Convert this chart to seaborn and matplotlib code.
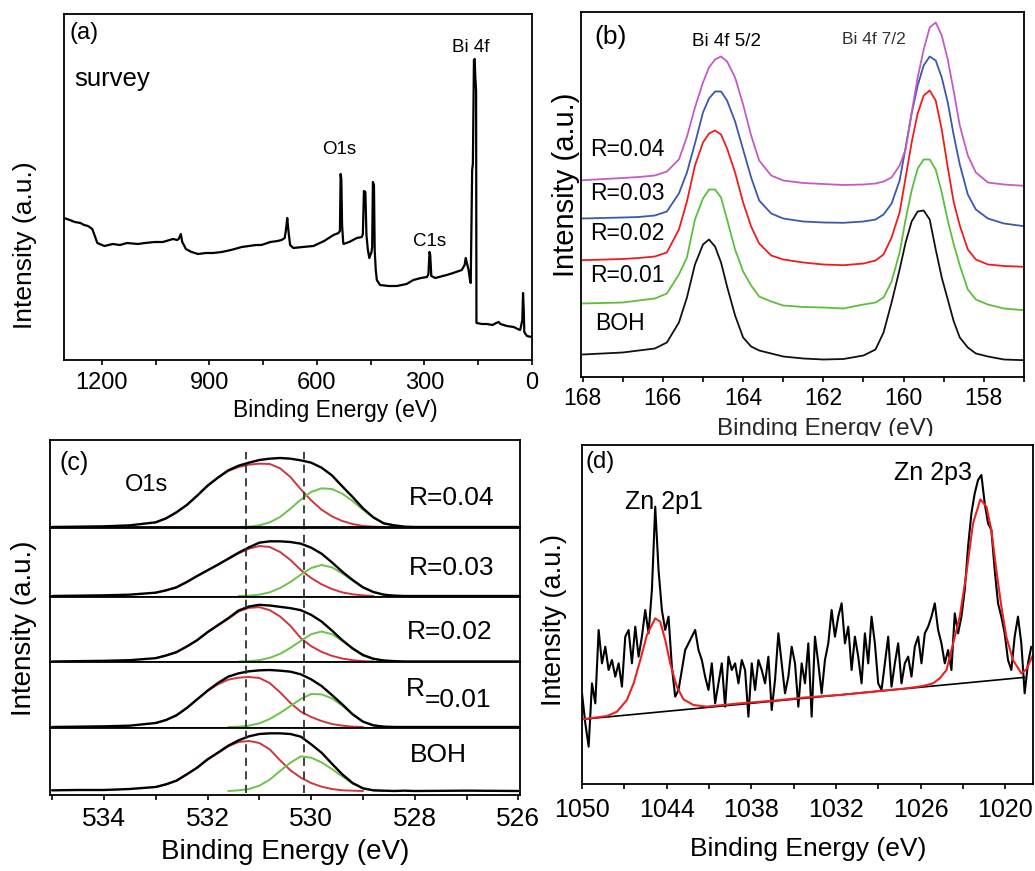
import numpy as np
import matplotlib
matplotlib.use("Agg")
import matplotlib.pyplot as plt
from matplotlib.patches import Rectangle
import seaborn as sns

# ---------------- (a) survey spectrum ----------------
survey_be = [1306, 1290, 1276, 1260, 1250, 1239, 1227, 1220, 1213, 1200, 1193, 1170, 1150, 1130, 1100,
             1080, 1053, 1030, 1002, 990, 986, 980, 976, 970, 966, 950, 932, 910, 890, 866, 840, 810,
             790, 770, 755, 730, 710, 699, 690, 686, 683, 680, 675, 666, 640, 610, 580, 554, 540, 536,
             534, 532, 530, 527, 526, 510, 489, 475, 472, 469, 465, 462, 458, 454, 448, 446, 444, 441,
             439, 436, 433, 424, 400, 377, 350, 331, 310, 293, 289, 286, 284, 281, 270, 238, 220, 196,
             188, 185, 181, 177, 173, 171, 167, 165, 162, 160, 158, 156, 155, 154, 140, 126, 110, 100,
             93, 88, 70, 51, 40, 33, 27, 25, 23, 21.5, 18, 14, 8, 0]
survey_int = [142, 140, 138, 137, 135, 134, 131, 124, 117, 115, 114, 116, 115, 117, 116,
              117, 118, 118, 121, 120, 121, 126, 118, 114, 111, 108, 106, 107, 107, 108, 110, 113,
              114, 115, 115, 118, 119, 120, 122, 132, 142, 130, 115, 112, 113, 114, 119, 125, 127, 129,
              186, 180, 135, 118, 116, 118, 122, 123, 126, 169, 168, 125, 110, 102, 108, 113, 178, 175,
              110, 90, 80, 75, 74, 74, 76, 80, 82, 83, 86, 108, 105, 84, 82, 85, 87, 90,
              95, 102, 96, 90, 80, 77, 190, 196, 300, 301, 281, 270, 37, 37, 36, 36, 35, 37,
              38, 36, 34, 33, 31, 30, 40, 67, 50, 28, 26, 24, 23.5, 23]

# ---------------- (b) Bi 4f ----------------
bi_labels = ["BOH", "R=0.01", "R=0.02", "R=0.03", "R=0.04"]
bi_colors = ["#111111", "#5cbf3c", "#f01c1c", "#3b58ad", "#c25cc4"]
bi_be = [168.0, 167.0, 166.6, 166.2, 165.9, 165.6, 165.4, 165.2, 165.0, 164.85, 164.7, 164.55, 164.4,
         164.2, 164.0, 163.8, 163.6, 163.3, 163.0, 162.5, 162.0, 161.5, 161.0, 160.7, 160.5, 160.3,
         160.1, 159.95, 159.8, 159.65, 159.5, 159.35, 159.2, 159.05, 158.9, 158.75, 158.6, 158.4,
         158.2, 157.9, 157.5, 157.0]
bi_boh = [23, 25, 27, 29, 35, 55, 80, 113, 133, 138, 131, 115, 91, 62, 40, 31, 27, 24, 21, 19, 18, 18.5,
          22, 28, 45, 75, 108, 135, 156, 166, 167, 158, 128, 100, 78, 56, 40, 30, 24, 21, 18, 17.3]
bi_r001 = [74, 75, 77, 79, 84, 103, 120, 158, 179, 188, 188, 180, 158, 128, 106, 92, 81, 76, 72, 70.5,
           70, 69, 73, 75, 80, 96, 125, 158, 187, 209, 218, 218, 208, 185, 157, 133, 112, 88, 78, 73,
           69, 67.3]
bi_r002 = [117.3, 118.5, 119.5, 121, 125, 148, 176, 212, 235, 244, 247, 243, 229, 205, 175, 151, 134,
           122, 118, 115, 113, 112.3, 114, 117, 123, 140, 165, 200, 235, 264, 282, 287, 277, 248, 210,
           175, 152, 128, 118, 113, 111.5, 110.7]
bi_r003 = [159, 160, 160.5, 162, 166, 184, 205, 234, 265, 279, 286, 286, 277, 256, 228, 200, 177, 164,
           159, 156, 155, 154.7, 156, 158, 163, 174, 197, 230, 264, 292, 312, 321, 317, 300, 275, 242,
           213, 183, 168, 159, 154, 151.3]
bi_r004 = [197.3, 199.5, 200.5, 202, 206, 218, 240.7, 270, 295, 310, 318, 321, 316, 300, 273, 242, 217,
           202, 197, 194.5, 193.5, 192.5, 193, 194, 196, 200, 212, 228, 265, 300, 328, 350, 355, 342,
           318, 286, 252, 222, 205, 195, 193, 191.7]

# ---------------- (c) O1s ----------------
o1s_be = [535, 534.5, 534, 533.5, 533, 532.8, 532.6, 532.4, 532.2, 532, 531.8, 531.6, 531.4, 531.2, 531,
          530.8, 530.6, 530.4, 530.2, 530, 529.8, 529.6, 529.4, 529.2, 529, 528.8, 528.6, 528.4, 528.2,
          528, 527, 526]
o1s_fit_be = [533, 532.8, 532.6, 532.4, 532.2, 532, 531.8, 531.6, 531.4, 531.2, 531, 530.8, 530.6, 530.4,
              530.2, 530, 529.8, 529.6, 529.4, 529.2, 529, 528.8, 528.6, 528.4, 528.2]
o1s_labels = ["R=0.04", "R=0.03", "R=0.02", "R=0.01", "BOH"]
o1s_total = [
    [0, 1, 2, 5, 14, 26, 44, 66, 94, 124, 148, 170, 184, 193, 201, 205, 207, 205, 200, 193, 178, 155, 122,
     90, 56, 29, 11, 5, 1, 0, 0, 0],
    [0, 1, 2, 4, 10, 17, 26, 42, 60, 77, 94, 112, 130, 146, 160, 164, 164, 162, 157, 145, 127, 101, 73,
     48, 26, 12, 4, 1, 0, 0, 0, 0],
    [0, 1, 2, 4, 10, 18, 28, 45, 64, 88, 109, 130, 153, 165, 170, 168, 164, 160, 154, 140, 120, 93, 64,
     39, 19, 8, 3, 1, 0, 0, 0, 0],
    [0, 1, 2, 4, 12, 21, 35, 57, 83, 109, 132, 151, 161, 167, 170, 171, 169, 166, 158, 143, 123, 96, 68,
     38, 16, 5, 1, 0, 0, 0, 0, 0],
    [2, 3, 3, 6, 12, 20, 31, 50, 70, 95, 115, 136, 152, 164, 171, 173, 173, 171, 163, 140, 115, 82, 50,
     24, 8, 2, 1, 0, 1, 0, 1, 0],
]
o1s_red = [
    [14, 26, 44, 66, 94, 123, 148, 168, 180, 187, 190, 189, 176, 150, 113, 80, 52, 32, 18, 9, 3, 1, 0, 0, 0],
    [10, 17, 26, 42, 60, 77, 94, 111, 128, 142, 150, 147, 132, 108, 78, 54, 35, 21, 11, 5, 2, 0, 0, 0, 0],
    [10, 18, 28, 45, 64, 88, 108, 128, 150, 161, 163, 154, 135, 107, 70, 46, 29, 17, 9, 4, 1, 0, 0, 0, 0],
    [12, 21, 35, 57, 83, 108, 128, 142, 148, 150, 147, 132, 104, 72, 46, 30, 18, 9, 4, 1, 0, 0, 0, 0, 0],
    [12, 20, 31, 50, 70, 94, 114, 134, 147, 150, 144, 125, 92, 62, 40, 24, 13, 6, 2, 1, 0, 0, 0, 0, 0],
]
o1s_green = [
    [0, 0, 0, 0, 0, 0, 0, 0, 0, 1, 5, 14, 30, 55, 82, 105, 116, 114, 100, 78, 52, 28, 11, 5, 1],
    [0, 0, 0, 0, 0, 0, 0, 0, 0, 1, 4, 11, 24, 42, 64, 84, 93, 86, 68, 46, 26, 12, 4, 1, 0],
    [0, 0, 0, 0, 0, 0, 0, 0, 0, 1, 4, 11, 23, 41, 62, 82, 90, 82, 62, 40, 21, 9, 3, 1, 0],
    [0, 0, 0, 0, 0, 0, 0, 0, 1, 4, 11, 24, 42, 63, 84, 99, 98, 86, 64, 38, 16, 5, 1, 0, 0],
    [0, 0, 0, 0, 0, 0, 0, 0, 2, 6, 16, 34, 60, 85, 104, 100, 86, 66, 44, 22, 8, 2, 0, 0, 0],
]
o1s_ref_lines = [531.25, 530.13]

# ---------------- (d) Zn 2p ----------------
zn_start, zn_end = 1050.0, 1018.16
zn_int = [272, 182, 112, 302, 242, 462, 362, 412, 342, 372, 322, 362, 292, 442, 462, 362, 472, 382, 442,
          522, 452, 582, 832, 642, 522, 462, 502, 352, 262, 282, 342, 402, 422, 442, 462, 402, 372, 322,
          282, 362, 242, 302, 362, 232, 382, 342, 362, 302, 372, 342, 202, 362, 282, 372, 342, 302, 382,
          222, 312, 452, 362, 272, 322, 412, 362, 232, 362, 302, 422, 202, 442, 362, 272, 372, 422, 522,
          442, 502, 542, 422, 472, 342, 442, 382, 302, 452, 362, 502, 422, 302, 282, 362, 442, 292, 362,
          422, 302, 362, 382, 322, 412, 442, 362, 452, 472, 502, 542, 462, 422, 362, 402, 342, 512, 452,
          502, 582, 712, 812, 872, 912, 927, 842, 782, 762, 642, 542, 502, 452, 372, 342, 442, 502, 422,
          272, 362, 412]
zn_fit_be = [1050.0, 1048.23, 1047.52, 1046.82, 1046.34, 1045.87, 1045.40, 1044.81, 1044.46, 1044.10,
             1043.75, 1043.28, 1042.81, 1042.10, 1041.16, 1038.80, 1036.44, 1034.08, 1031.72, 1029.36,
             1027.0, 1025.83, 1025.12, 1024.65, 1024.17, 1023.70, 1023.23, 1022.76, 1022.29, 1021.77,
             1021.34, 1020.99, 1020.64, 1020.28, 1019.93, 1019.46, 1018.87, 1018.51, 1018.04]
zn_fit_int = [194, 204, 217, 252, 302, 372, 447, 497, 487, 432, 362, 292, 254, 237, 232, 242, 250, 260,
              267, 277, 287, 294, 302, 317, 342, 422, 502, 632, 782, 854, 832, 762, 642, 532, 442, 372,
              332, 344, 387]
zn_bg_be = [1050.0, 1018.63]
zn_bg_int = [194, 320]

# ---------------- figure ----------------
W, H = 1035, 871
sns.set_theme(style="white")
plt.rcParams['font.family'] = ['Liberation Sans', 'DejaVu Sans']
plt.rcParams['axes.edgecolor'] = 'black'
plt.rcParams['axes.linewidth'] = 1.3

fig = plt.figure(figsize=(W / 100, H / 100), dpi=100)
fig.patch.set_facecolor('white')


def add_ax(l, t, r, b):
    ax = fig.add_axes([l / W, 1 - b / H, (r - l) / W, (b - t) / H])
    ax.set_facecolor('white')
    return ax


def ftext(x, y, s, size, ha='center', va='center', rot=0, color='black'):
    fig.text(x / W, 1 - y / H, s, fontsize=size, ha=ha, va=va, rotation=rot, color=color)


def trim(xs, ys):
    nz = [k for k, v in enumerate(ys) if v > 0]
    a = max(nz[0] - 1, 0)
    b = min(nz[-1] + 1, len(ys) - 1)
    return xs[a:b + 1], ys[a:b + 1]


def style_x(ax, majors, minors, labelsize, pad, show=True):
    ax.set_yticks([])
    ax.set_xlabel('')
    ax.set_ylabel('')
    if show:
        ax.set_xticks(majors)
        ax.set_xticklabels([str(m) for m in majors])
        ax.set_xticks(minors, minor=True)
        ax.tick_params(axis='x', which='both', direction='out', length=3.8, width=1.2,
                       colors='black', labelsize=labelsize, pad=pad, bottom=True, top=False)
    else:
        ax.set_xticks([])
        ax.tick_params(axis='x', which='both', bottom=False, labelbottom=False)
    for s in ax.spines.values():
        s.set_color('black')
        s.set_linewidth(1.3)


# (a)
ax_a = add_ax(64, 14, 532, 360)
sns.lineplot(x=survey_be, y=survey_int, ax=ax_a, color='black', linewidth=1.6,
             sort=False, estimator=None, legend=False)
ax_a.set_xlim(1306, 0)
ax_a.set_ylim(0, 346)
style_x(ax_a, [1200, 900, 600, 300, 0], [1050, 750, 450, 150], 17, 4.5)
ftext(84, 33, "(a)", 17)
ftext(112, 79, "survey", 18.5)
ftext(339, 150, "O1s", 13.5)
ftext(430, 242, "C1s", 13.5)
ftext(471, 47, "Bi 4f", 13.5)
ftext(25, 245, "Intensity (a.u.)", 19, rot=90)
ftext(335, 410, "Binding Energy (eV)", 16.5)

# (b)
ax_b = add_ax(581, 12.5, 1024, 377.5)
for by, c in zip([bi_boh, bi_r001, bi_r002, bi_r003, bi_r004], bi_colors):
    sns.lineplot(x=bi_be, y=by, ax=ax_b, color=c, linewidth=1.3, sort=False, estimator=None, legend=False)
ax_b.set_xlim(168.04, 157.0)
ax_b.set_ylim(0, 365)
style_x(ax_b, [168, 166, 164, 162, 160, 158], [167, 165, 163, 161, 159, 157], 16.5, 3)
ftext(611, 37, "(b)", 19)
ftext(726, 42, "Bi 4f 5/2", 13.5)
ftext(874, 39, "Bi 4f 7/2", 12.5, color='#333333')
for lab, yy, xx in zip(bi_labels, [323, 275, 233, 193, 149], [595, 590, 590, 590, 590]):
    ftext(xx, yy, lab, 16.5, ha='left')
ftext(566, 185, "Intensity (a.u.)", 21, rot=90)
fig.text(825 / W, 1 - 435 / H, "Binding Energy (eV)", fontsize=17.5, ha='center', va='baseline')
fig.patches.append(Rectangle((690 / W, 1 - 443 / H), 270 / W, 7 / H, transform=fig.transFigure,
                             facecolor='white', edgecolor='none', zorder=10))

# (c)
c_bounds = [440, 527.5, 596.5, 662, 727.5, 795]
c_ylims = [(-1.5, 261), (-1.5, 205.5), (-1.5, 195), (-1.5, 195), (-12, 190.5)]
for i in range(5):
    ax = add_ax(50, c_bounds[i], 520, c_bounds[i + 1])
    rx, ry = trim(o1s_fit_be, o1s_red[i])
    gx, gy = trim(o1s_fit_be, o1s_green[i])
    sns.lineplot(x=rx, y=ry, ax=ax, color='#d0353c', linewidth=1.4,
                 sort=False, estimator=None, legend=False)
    sns.lineplot(x=gx, y=gy, ax=ax, color='#6cc24a', linewidth=1.4,
                 sort=False, estimator=None, legend=False)
    sns.lineplot(x=o1s_be, y=o1s_total[i], ax=ax, color='black', linewidth=1.7,
                 sort=False, estimator=None, legend=False)
    ax.set_xlim(535.04, 525.97)
    ax.set_ylim(*c_ylims[i])
    ymax = 0.86 if i == 0 else 1.0
    ymin = 0.03 if i == 4 else 0.0
    for xv in o1s_ref_lines:
        ax.axvline(xv, ymin=ymin, ymax=ymax, color='#333333', linewidth=1.3, linestyle=(0, (4.5, 3)))
    style_x(ax, [534, 532, 530, 528, 526], [535, 533, 531, 529, 527], 19, 4.5, show=(i == 4))
ftext(74, 463, "(c)", 18)
ftext(147, 485, "O1s", 17)
ftext(409, 498, "R=0.04", 19, ha='left')
ftext(409, 568, "R=0.03", 19, ha='left')
ftext(407, 632, "R=0.02", 19, ha='left')
ftext(406, 689, "R", 19, ha='left')
ftext(425, 700, "=0.01", 19, ha='left')
ftext(410, 755, "BOH", 19, ha='left')
ftext(24, 628, "Intensity (a.u.)", 20, rot=90)
ftext(285, 852, "Binding Energy (eV)", 20)

# (d)
ax_d = add_ax(582, 445, 1033, 784)
zn_be = np.linspace(zn_start, zn_end, len(zn_int))
sns.lineplot(x=zn_be, y=zn_int, ax=ax_d, color='black', linewidth=1.5, sort=False,
             estimator=None, legend=False)
sns.lineplot(x=zn_bg_be, y=zn_bg_int, ax=ax_d, color='black', linewidth=1.2, sort=False,
             estimator=None, legend=False)
sns.lineplot(x=zn_fit_be, y=zn_fit_int, ax=ax_d, color='#ee2020', linewidth=1.5, sort=False,
             estimator=None, legend=False)
ax_d.set_xlim(1050, 1018.04)
ax_d.set_ylim(0, 1017)
style_x(ax_d, [1050, 1044, 1038, 1032, 1026, 1020], [1047, 1041, 1035, 1029, 1023], 18, 6)
ftext(600, 462, "(d)", 17)
ftext(664, 502, "Zn 2p1", 18)
ftext(933, 473, "Zn 2p3", 18)
ftext(554, 620, "Intensity (a.u.)", 19.5, rot=90)
ftext(808, 849, "Binding Energy (eV)", 19)

fig.savefig("out.png", dpi=100, facecolor='white')
